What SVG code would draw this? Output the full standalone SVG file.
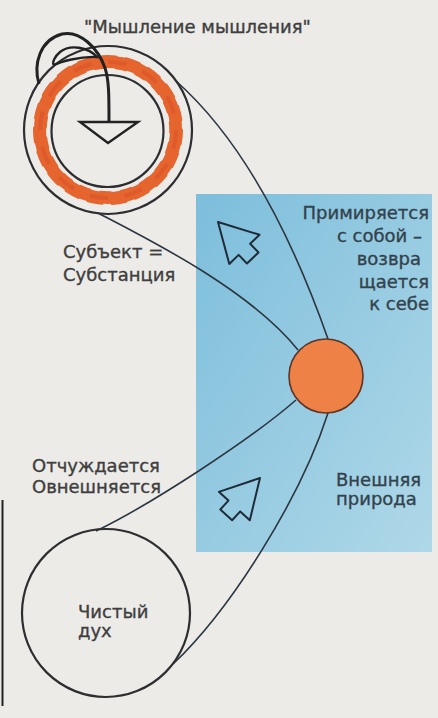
<svg xmlns="http://www.w3.org/2000/svg" width="438" height="718" viewBox="0 0 438 718">
<defs>
<linearGradient id="blueGrad" x1="0" y1="0" x2="1" y2="1">
<stop offset="0" stop-color="#7dbedb"/>
<stop offset="1" stop-color="#afd8e8"/>
</linearGradient>
<path id="arrowShape" d="M0,0 L21,38 L8,38 L8,50 L-8,50 L-8,38 L-21,38 Z"/>
</defs>
<style>
.ring{fill:none;stroke:#2e2e30;stroke-width:2.2}
.conn{fill:none;stroke:#2c3640;stroke-width:1.6}
.lbl{font-family:"DejaVu Sans","Liberation Sans",sans-serif;font-size:18px;fill:#3e3e3e;stroke:#3e3e3e;stroke-width:0.35}
.lblb{font-family:"DejaVu Sans","Liberation Sans",sans-serif;font-size:18px;fill:#33424c;stroke:#33424c;stroke-width:0.35}
.arrow{fill:none;stroke:#1f2b38;stroke-width:2;stroke-linejoin:round}
.orange{fill:none;stroke:#e6652e}
</style>
<rect x="0" y="0" width="438" height="718" fill="#ecebe8"/>
<line x1="2.5" y1="500" x2="2.5" y2="706" stroke="#222" stroke-width="2"/>

<g id="nature-area">
<rect x="196" y="194" width="236" height="358" fill="url(#blueGrad)"/>
<text class="lblb" text-anchor="end" x="429" y="219">Примиряется</text>
<text class="lblb" text-anchor="end" x="422" y="242">с собой –</text>
<text class="lblb" text-anchor="end" x="421" y="265">возвра</text>
<text class="lblb" text-anchor="end" x="429" y="288">щается</text>
<text class="lblb" text-anchor="end" x="429" y="310">к себе</text>
<text class="lblb" x="336" y="486">Внешняя</text>
<text class="lblb" x="336" y="505">природа</text>
</g>

<g id="arrow-up">
<use href="#arrowShape" class="arrow" transform="translate(218,222) rotate(-44)"/>
</g>
<g id="arrow-low">
<use href="#arrowShape" class="arrow" transform="translate(260,478) rotate(42.5)"/>
</g>

<g id="connectors">
<path class="conn" d="M176,81 Q265,160 328,339"/>
<path class="conn" d="M98,213 C150,240 250,290 298,350"/>
<path class="conn" d="M296,400 C250,440 150,505 96,531"/>
<path class="conn" d="M328,413 C300,500 230,610 173,664"/>
</g>

<g id="node-thinking">
<circle class="orange" cx="108" cy="130" r="68" stroke-width="12"/>
<circle class="orange" cx="108" cy="130" r="73.5" stroke-width="3" stroke-dasharray="14 10" stroke-linecap="round" pathLength="456"/>
<circle class="orange" cx="108" cy="130" r="62.5" stroke-width="2.5" stroke-dasharray="12 12" stroke-dashoffset="9" stroke-linecap="round" pathLength="456"/>
<circle cx="108" cy="130" r="68" fill="none" stroke="#d9542a" stroke-width="4" stroke-dasharray="20 18" stroke-opacity="0.6" pathLength="456"/>
<circle class="ring" cx="108" cy="130" r="84"/>
<circle class="ring" cx="107.5" cy="131" r="56"/>
<path d="M39,84 C33,64 40,40 62,34 C80,30 98,48 105,68 C109,80 109,95 109,122" fill="none" stroke="#222" stroke-width="3"/>
<path d="M97,57 C88,47 70,44 60,52 C54,57 52,63 54,65 C60,62 80,56 97,57 Z" fill="none" stroke="#222" stroke-width="2.4"/>
<path d="M80,122 L138,122 L108,143 Z" fill="none" stroke="#222" stroke-width="2.4" stroke-linejoin="miter"/>
<text class="lbl" x="84" y="33">"Мышление мышления"</text>
</g>

<g id="label-subject">
<text class="lbl" x="63" y="258">Субъект =</text>
<text class="lbl" x="63" y="281">Субстанция</text>
</g>

<g id="node-center">
<circle cx="326" cy="376" r="37" fill="#ee8246" stroke="#5e3426" stroke-width="1.6"/>
</g>

<g id="label-alienation">
<text class="lbl" x="32" y="472">Отчуждается</text>
<text class="lbl" x="32" y="493">Овнешняется</text>
</g>

<g id="node-pure-spirit">
<circle class="ring" cx="106" cy="613" r="84"/>
<text class="lbl" x="78" y="618">Чистый</text>
<text class="lbl" x="78" y="637">дух</text>
</g>
</svg>
